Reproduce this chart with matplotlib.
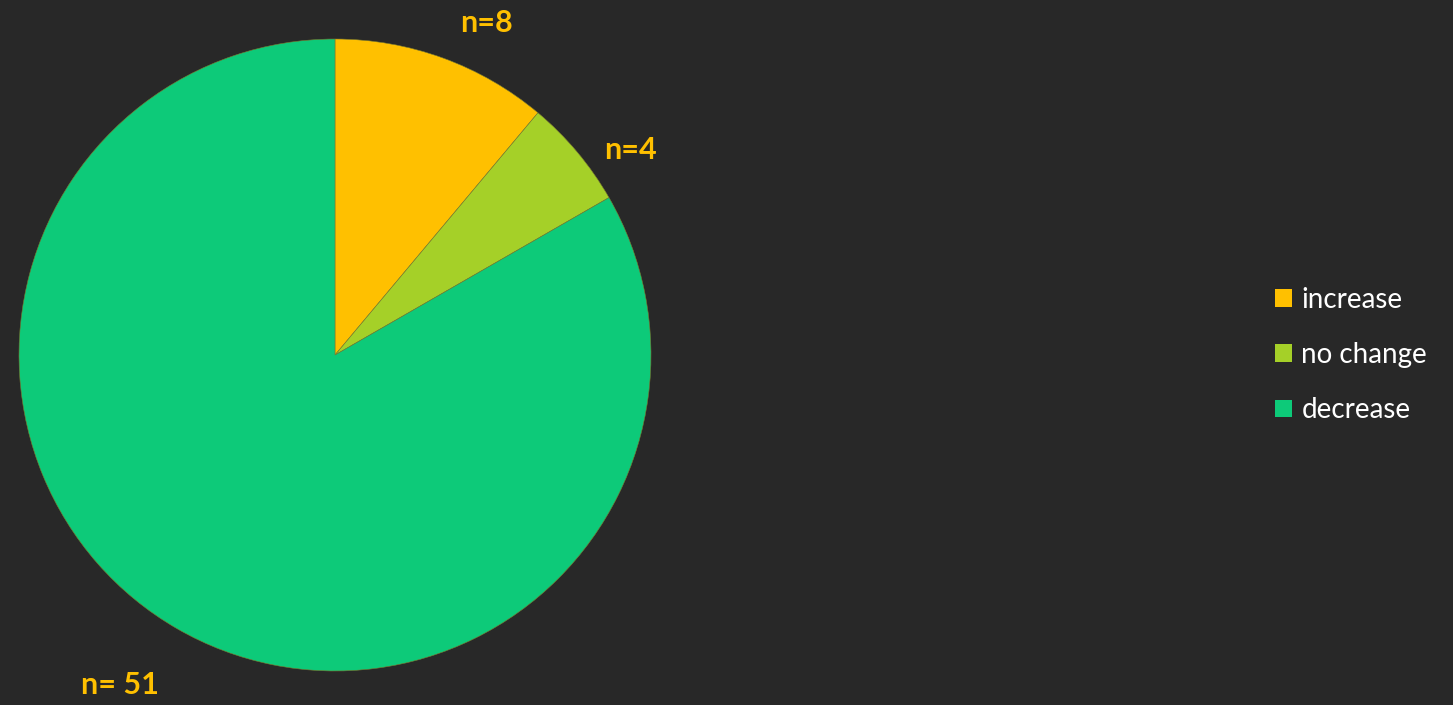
import matplotlib.pyplot as plt
from matplotlib.patches import Patch

categories = ["increase", "no change", "decrease"]
shares = [11.1, 5.6, 83.3]
labels = ["n=8", "n=4", "n= 51"]
colors = ["#FFC000", "#A5D028", "#0DCA79"]

bg = "#282828"
label_color = "#FFC000"

fig = plt.figure(figsize=(14.53, 7.05), dpi=100, facecolor=bg)

# pie centre ~ (335, 355) px, radius ~ 316 px
W, H = 1453, 705
cx, cy, r = 335, 355, 316
ax = fig.add_axes([(cx - r) / W, (H - cy - r) / H, 2 * r / W, 2 * r / H])
ax.set_facecolor(bg)

wedges, _ = ax.pie(shares, colors=colors, startangle=90, counterclock=False,
                   radius=1, wedgeprops=dict(edgecolor="#7a7a30", linewidth=0.4))
ax.set_xlim(-1, 1)
ax.set_ylim(-1, 1)
ax.set_aspect("equal")
ax.axis("off")

# data label positions (in units of the radius)
label_pos = [(0.481, 1.052), (0.934, 0.649), (-0.680, -1.044)]
for txt, (x, y) in zip(labels, label_pos):
    ax.text(x, y, txt, color=label_color, fontsize=22, fontweight="bold",
            family="Lato", ha="center", va="center", clip_on=False)

handles = [Patch(facecolor=c, edgecolor="none") for c in colors]
leg = fig.legend(handles, categories, loc="center left",
                 bbox_to_anchor=(1250 / W, 1 - 355 / H),
                 frameon=False, prop={"family": "Lato", "size": 20},
                 handlelength=0.6, handleheight=0.6, handletextpad=0.35,
                 labelspacing=1.05, labelcolor="white")

fig.savefig("out.png", dpi=100, facecolor=bg)
